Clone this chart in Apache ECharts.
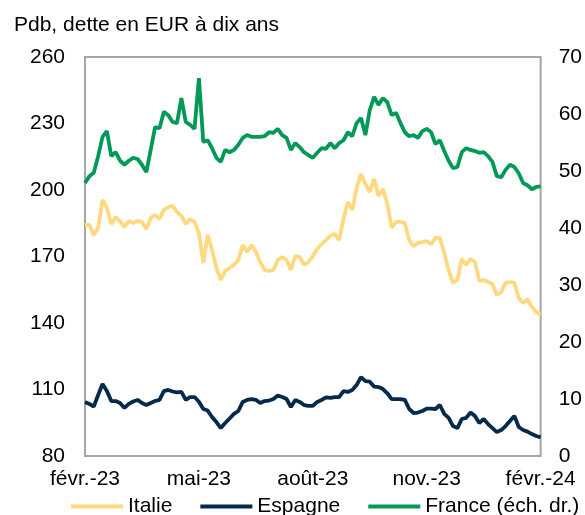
<!DOCTYPE html>
<html>
<head>
<meta charset="utf-8">
<script src="https://cdn.jsdelivr.net/npm/echarts@6/dist/echarts.min.js"></script>
<style>
  html, body { margin: 0; padding: 0; background: #fff; }
  #chart { width: 585px; height: 515px; }
</style>
</head>
<body>
<div id="chart"></div>
<script>
// ~105 points between févr.-23 and févr.-24 (about 3.5 days apart)
var tickLabels = ['févr.-23', 'mai-23', 'août-23', 'nov.-23', 'févr.-24'];
var step = 26;
var categories = [];
for (var i = 0; i <= step * 4; i++) categories.push(i);

var italie = [
    184.2, 184.2, 179.7, 182.9, 195.5, 191.9, 184.7, 187.8, 186.0, 183.3,
    186.0, 185.1, 186.0, 185.6, 182.4, 187.4, 188.7, 186.9, 191.0, 192.3,
    192.8, 190.1, 188.3, 184.7, 186.9, 185.6, 180.6, 167.1, 179.7, 172.9,
    164.8, 159.4, 163.5, 164.8, 166.2, 168.4, 175.2, 172.0, 175.2, 172.0,
    167.5, 163.9, 163.5, 163.9, 168.4, 169.8, 168.4, 163.9, 170.2, 169.8,
    166.2, 167.5, 170.2, 173.4, 175.6, 177.4, 179.3, 180.2, 177.4, 186.9,
    194.6, 191.0, 200.9, 207.2, 202.7, 199.1, 205.0, 197.3, 200.5, 193.7,
    182.9, 185.6, 185.6, 185.1, 177.4, 174.7, 176.1, 176.5, 177.0, 175.6,
    178.4, 178.4, 171.6, 163.9, 158.1, 159.4, 168.9, 166.2, 168.9, 167.5,
    159.0, 159.4, 158.5, 157.6, 152.6, 154.0, 158.1, 158.5, 158.1, 151.3,
    149.0, 150.8, 147.2, 145.0, 143.6
];

var espagne = [
    104.4, 103.5, 102.3, 107.5, 112.5, 109.3, 104.8, 104.8, 103.9, 101.7,
    103.5, 104.6, 105.3, 103.9, 103.0, 103.9, 104.8, 105.3, 109.3, 109.8,
    109.1, 108.7, 108.9, 105.3, 106.6, 106.6, 104.5, 101.2, 100.5, 97.6,
    95.3, 92.6, 94.9, 96.9, 99.0, 100.3, 104.4, 105.3, 105.7, 105.3,
    103.9, 104.8, 105.0, 105.7, 107.3, 106.6, 105.7, 102.1, 105.3, 104.4,
    103.0, 102.6, 102.6, 104.4, 105.3, 106.4, 106.2, 106.6, 106.6, 109.3,
    108.9, 109.8, 112.0, 115.6, 113.8, 113.5, 111.3, 111.1, 110.2, 108.3,
    105.7, 105.7, 105.7, 105.3, 101.2, 99.4, 99.6, 100.3, 101.4, 101.4,
    101.2, 103.0, 99.0, 97.2, 93.5, 92.6, 96.7, 97.2, 99.6, 98.1,
    94.9, 96.7, 94.4, 92.6, 90.8, 91.7, 93.5, 95.8, 98.1, 93.1,
    91.7, 91.0, 89.9, 89.0, 88.4
];

// France, échelle de droite
var france = [
    47.9, 49.1, 49.7, 52.6, 56.0, 57.0, 52.6, 53.3, 51.8, 51.1,
    51.8, 52.3, 52.1, 51.1, 49.8, 53.7, 57.7, 57.5, 60.4, 59.8,
    58.6, 58.4, 62.8, 58.6, 58.1, 57.4, 66.3, 55.1, 55.4, 54.0,
    52.3, 51.6, 53.7, 53.3, 53.7, 54.6, 55.8, 56.3, 56.0, 56.0,
    56.0, 56.1, 56.8, 56.7, 57.4, 56.3, 55.8, 53.7, 54.9, 54.2,
    53.3, 52.8, 52.3, 53.2, 54.0, 53.9, 54.9, 54.0, 54.9, 55.4,
    56.8, 56.1, 58.4, 59.3, 56.3, 60.7, 63.0, 61.6, 62.8, 62.1,
    59.8, 60.2, 58.4, 56.8, 56.1, 56.3, 55.8, 57.0, 57.4, 56.8,
    54.7, 55.4, 53.5, 51.8, 50.5, 50.7, 53.3, 54.0, 53.7, 53.5,
    53.2, 53.3, 52.6, 51.6, 49.1, 48.9, 50.2, 51.1, 50.7, 49.6,
    47.9, 47.5, 46.8, 47.2, 47.3
];

var font = "'Liberation Sans', Arial, sans-serif";
var chart = echarts.init(document.getElementById('chart'));

chart.setOption({
    animation: false,
    textStyle: { fontFamily: font },
    title: {
        text: 'Pdb, dette en EUR à dix ans',
        left: 9,
        top: 10,
        textStyle: { fontSize: 21, fontWeight: 'normal', color: '#000', fontFamily: font }
    },
    grid: {
        left: 85, right: 41, top: 57, bottom: 59,
        show: true,
        borderColor: '#a6a6a6',
        borderWidth: 2
    },
    legend: {
        left: 66,
        top: 491,
        icon: 'rect',
        itemWidth: 52,
        itemHeight: 4,
        itemGap: 28,
        textStyle: { fontSize: 21, color: '#000', fontFamily: font },
        data: ['Italie', 'Espagne', 'France (éch. dr.)']
    },
    xAxis: {
        type: 'category',
        data: categories,
        boundaryGap: false,
        axisLine: { show: false },
        axisTick: { show: false },
        axisLabel: {
            interval: step - 1,
            margin: 13,
            fontSize: 21,
            color: '#000',
            formatter: function (v, idx) { return tickLabels[idx / step]; }
        }
    },
    yAxis: [{
        type: 'value',
        min: 80, max: 260, interval: 30,
        axisLine: { show: false },
        axisTick: { show: false },
        splitLine: { show: false },
        axisLabel: { fontSize: 21, color: '#000', margin: 20 }
    }, {
        type: 'value',
        min: 0, max: 70, interval: 10,
        axisLine: { show: false },
        axisTick: { show: false },
        splitLine: { show: false },
        axisLabel: { fontSize: 21, color: '#000', margin: 18 }
    }],
    series: [{
        name: 'Italie',
        type: 'line',
        data: italie,
        symbol: 'none',
        color: '#ffd97f',
        lineStyle: { width: 3.8, color: '#ffd97f' }
    }, {
        name: 'Espagne',
        type: 'line',
        data: espagne,
        symbol: 'none',
        color: '#032a4c',
        lineStyle: { width: 3.8, color: '#032a4c' }
    }, {
        name: 'France (éch. dr.)',
        type: 'line',
        yAxisIndex: 1,
        data: france,
        symbol: 'none',
        color: '#009957',
        lineStyle: { width: 3.8, color: '#009957' }
    }]
});
</script>
</body>
</html>
